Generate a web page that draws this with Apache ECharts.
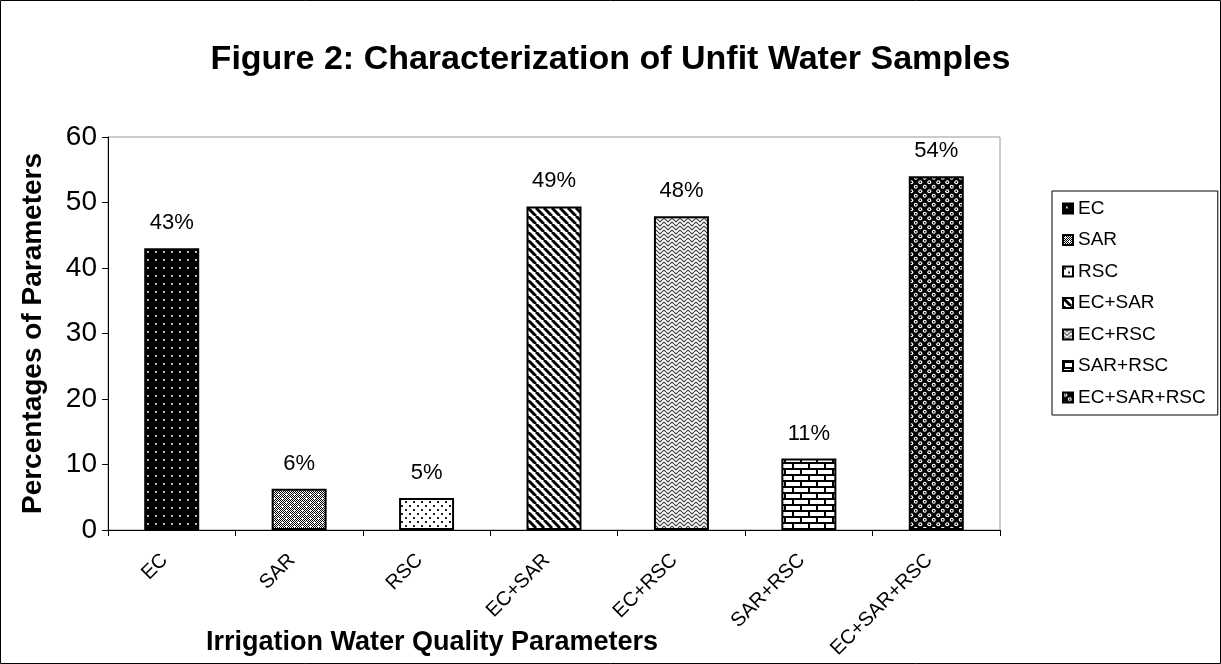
<!DOCTYPE html>
<html>
<head>
<meta charset="utf-8">
<script src="https://cdn.jsdelivr.net/npm/echarts@6/dist/echarts.min.js"></script>
<style>
html,body{margin:0;padding:0;background:#fff;}
#chart{width:1221px;height:664px;}
</style>
</head>
<body>
<div id="chart"></div>
<script>
// ---- data ----
const categories = ['EC', 'SAR', 'RSC', 'EC+SAR', 'EC+RSC', 'SAR+RSC', 'EC+SAR+RSC'];
const values = [43, 6.3, 4.9, 49.4, 47.9, 10.9, 54];
const valueLabels = ['43%', '6%', '5%', '49%', '48%', '11%', '54%'];
const yMin = 0, yMax = 60, yInterval = 10;
const titleText = 'Figure 2: Characterization of Unfit Water Samples';
const xAxisTitle = 'Irrigation Water Quality Parameters';
const yAxisTitle = 'Percentages of Parameters';

// ---- pattern tiles ----
function tile(w, h, draw) {
  const c = document.createElement('canvas');
  c.width = w; c.height = h;
  const g = c.getContext('2d');
  draw(g, w, h);
  return c;
}
const patterns = [
  // EC: black with white dots
  tile(8, 8, (g, w, h) => {
    g.fillStyle = '#000'; g.fillRect(0, 0, w, h);
    g.fillStyle = '#aaa'; g.fillRect(3, 3, 2, 2);
    g.fillStyle = '#fff'; g.fillRect(3, 3, 1, 1);
  }),
  // SAR: gray dither with white specks
  tile(8, 8, (g, w, h) => {
    g.fillStyle = '#fff'; g.fillRect(0, 0, w, h);
    g.fillStyle = '#000';
    for (let y = 0; y < h; y++) for (let x = 0; x < w; x++) if ((x + y) % 2 === 0) g.fillRect(x, y, 1, 1);
    g.fillStyle = '#fff';
    g.fillRect(2, 2, 2, 1); g.fillRect(6, 6, 2, 1);
  }),
  // RSC: white with black dots
  tile(8, 8, (g, w, h) => {
    g.fillStyle = '#fff'; g.fillRect(0, 0, w, h);
    g.fillStyle = '#222';
    g.fillRect(1, 1, 2, 2); g.fillRect(5, 5, 2, 2);
  }),
  // EC+SAR: diagonal stripes
  tile(8, 8, (g, w, h) => {
    g.fillStyle = '#fff'; g.fillRect(0, 0, w, h);
    g.strokeStyle = '#000'; g.lineWidth = 3;
    for (let k = -1; k <= 1; k++) {
      g.beginPath(); g.moveTo(k * 8, 0); g.lineTo(k * 8 + 8, 8); g.stroke();
    }
  }),
  // EC+RSC: zigzag weave
  tile(8, 8, (g, w, h) => {
    g.fillStyle = '#fff'; g.fillRect(0, 0, w, h);
    g.strokeStyle = '#444'; g.lineWidth = 1.2;
    g.beginPath(); g.moveTo(0, 2); g.lineTo(4, 6); g.lineTo(8, 2); g.stroke();
    g.beginPath(); g.moveTo(0, 6); g.lineTo(2, 8); g.moveTo(6, 8); g.lineTo(8, 6); g.stroke();
    g.beginPath(); g.moveTo(2, 0); g.lineTo(4, 2); g.lineTo(6, 0); g.stroke();
  }),
  // SAR+RSC: bricks
  tile(16, 12, (g, w, h) => {
    g.fillStyle = '#fff'; g.fillRect(0, 0, w, h);
    g.fillStyle = '#000';
    g.fillRect(0, 0, w, 2); g.fillRect(0, 6, w, 2);
    g.fillRect(0, 0, 2, 6); g.fillRect(8, 6, 2, 6);
  }),
  // EC+SAR+RSC: black with white rings
  tile(9, 9, (g, w, h) => {
    g.fillStyle = '#000'; g.fillRect(0, 0, w, h);
    g.fillStyle = '#fff';
    g.beginPath(); g.arc(2.25, 2.25, 2.0, 0, Math.PI * 2); g.fill();
    g.beginPath(); g.arc(6.75, 6.75, 2.0, 0, Math.PI * 2); g.fill();
    g.fillStyle = '#000';
    g.fillRect(1.5, 1.5, 1.5, 1.5); g.fillRect(6, 6, 1.5, 1.5);
  })
];

const FONT = '"Liberation Sans", Arial, sans-serif';
const chart = echarts.init(document.getElementById('chart'), null, { renderer: 'canvas' });

const series = categories.map((name, i) => ({
  name: name,
  type: 'bar',
  barWidth: 55,
  barGap: '-100%',
  data: values.map((v, j) => (j === i ? v : '-')),
  itemStyle: {
    color: { image: patterns[i], repeat: 'repeat' },
    borderColor: '#000',
    borderWidth: 2
  },
  label: {
    show: true,
    position: 'top',
    distance: 14,
    formatter: valueLabels[i],
    fontFamily: FONT,
    fontSize: 22,
    color: '#000'
  }
}));

chart.setOption({
  animation: false,
  backgroundColor: '#fff',
  title: {
    text: titleText,
    left: 'center',
    top: 38,
    textStyle: { fontFamily: FONT, fontSize: 34, fontWeight: 'bold', color: '#000' }
  },
  grid: {
    left: 108, top: 137, right: 221, bottom: 134,
    containLabel: false,
    outerBoundsMode: 'none',
    show: true, borderColor: '#999', borderWidth: 1, backgroundColor: '#fff'
  },
  legend: {
    data: categories,
    orient: 'vertical',
    left: 1052,
    top: 191,
    icon: 'rect',
    itemWidth: 10,
    itemHeight: 10,
    itemGap: 12.5,
    padding: [8, 12, 8, 10],
    borderColor: '#000',
    borderWidth: 1,
    textStyle: { fontFamily: FONT, fontSize: 19, color: '#000' }
  },
  xAxis: {
    type: 'category',
    data: categories,
    name: xAxisTitle,
    nameLocation: 'middle',
    nameGap: 99,
    nameMoveOverlap: false,
    nameTextStyle: { fontFamily: FONT, fontSize: 27, fontWeight: 'bold', color: '#000', padding: [0, 244, 0, 0] },
    axisLine: { lineStyle: { color: '#000', width: 1 } },
    axisTick: { show: true, length: 6, lineStyle: { color: '#000' } },
    axisLabel: { rotate: 45, margin: 20, padding: [0, 10, 0, 0], fontFamily: FONT, fontSize: 20, color: '#000', interval: 0 }
  },
  yAxis: {
    type: 'value',
    min: yMin, max: yMax, interval: yInterval,
    name: yAxisTitle,
    nameLocation: 'middle',
    nameGap: 61,
    nameTextStyle: { fontFamily: FONT, fontSize: 28, fontWeight: 'bold', color: '#000' },
    axisLine: { show: true, lineStyle: { color: '#000', width: 1 } },
    axisTick: { show: true, length: 6, lineStyle: { color: '#000' } },
    axisLabel: { margin: 11, fontFamily: FONT, fontSize: 28, color: '#000' },
    splitLine: { show: false }
  },
  graphic: [{
    type: 'rect',
    shape: { x: 0.5, y: 0.5, width: 1220, height: 663 },
    style: { fill: 'none', stroke: '#000', lineWidth: 1 },
    silent: true
  }],
  series: series
});
</script>
</body>
</html>
